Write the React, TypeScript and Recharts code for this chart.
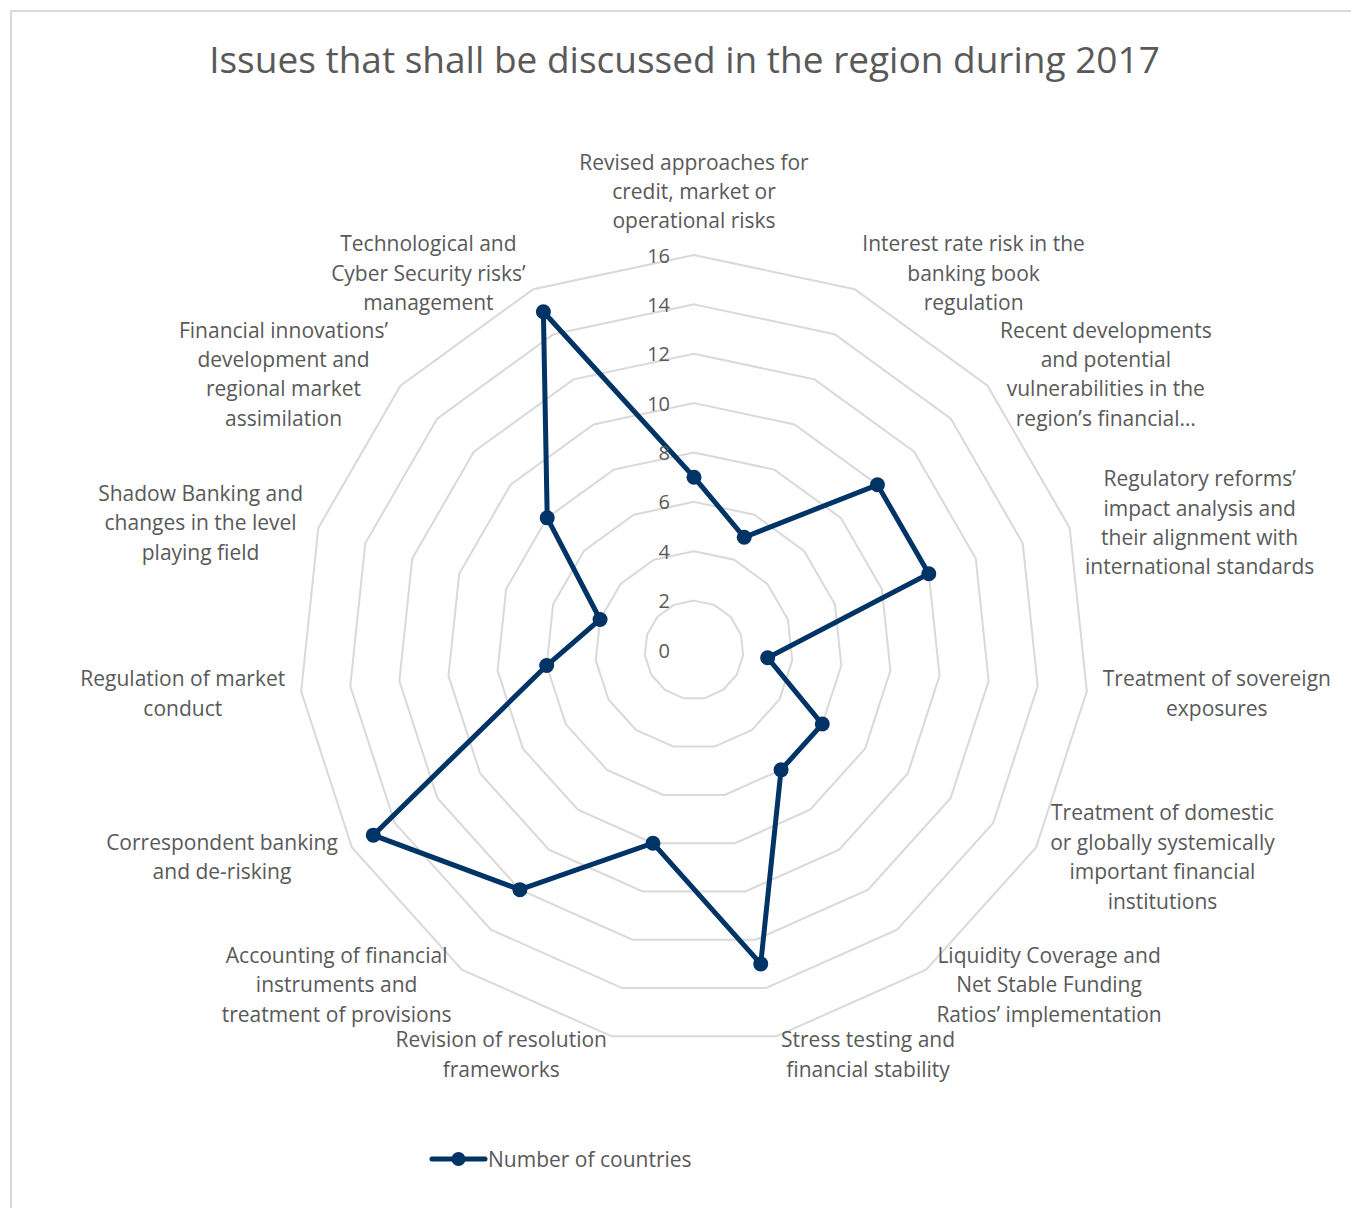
import { RadarChart, Radar, PolarGrid, PolarAngleAxis, PolarRadiusAxis, Legend } from "recharts";

const CATEGORIES = [
  "Revised approaches for\ncredit, market or\noperational risks",
  "Interest rate risk in the\nbanking book\nregulation",
  "Recent developments\nand potential\nvulnerabilities in the\nregion’s financial…",
  "Regulatory reforms’\nimpact analysis and\ntheir alignment with\ninternational standards",
  "Treatment of sovereign\nexposures",
  "Treatment of domestic\nor globally systemically\nimportant financial\ninstitutions",
  "Liquidity Coverage and\nNet Stable Funding\nRatios’ implementation",
  "Stress testing and\nfinancial stability",
  "Revision of resolution\nframeworks",
  "Accounting of financial\ninstruments and\ntreatment of provisions",
  "Correspondent banking\nand de-risking",
  "Regulation of market\nconduct",
  "Shadow Banking and\nchanges in the level\nplaying field",
  "Financial innovations’\ndevelopment and\nregional market\nassimilation",
  "Technological and\nCyber Security risks’\nmanagement",
];
const COUNTRIES = [7, 5, 10, 10, 3, 6, 6, 13, 8, 12, 15, 6, 4, 8, 15];
const RADIUS_TICKS = [0, 2, 4, 6, 8, 10, 12, 14, 16];
const SERIES_NAME = "Number of countries";
const TITLE = "Issues that shall be discussed in the region during 2017";

const data = CATEGORIES.map((c, i) => ({ category: c, value: COUNTRIES[i] }));

const W = 1351;
const H = 1208;
const CX = 694;
const CY = 650;
const R = 395;
const FONT = "'Open Sans', sans-serif";
const LABEL_SIZE = 21;
const LINE_H = 29.4;
const TEXT = "#595959";
const NAVY = "#003366";

let ctx: CanvasRenderingContext2D | null = null;
function textWidth(s: string) {
  if (!ctx) ctx = document.createElement("canvas").getContext("2d");
  if (!ctx) return s.length * 10;
  ctx.font = `${LABEL_SIZE}px 'Open Sans'`;
  return ctx.measureText(s).width;
}

// category labels sit outside each vertex, like Excel places them
function AngleTick(props: any) {
  const { index, payload } = props;
  const lines: string[] = String(payload.value).split("\n");
  const a = (index * 2 * Math.PI) / CATEGORIES.length;
  const vx = CX + R * Math.sin(a);
  const vy = CY - R * Math.cos(a);
  const w = Math.max(...lines.map(textWidth));
  const h = lines.length * LINE_H;
  let cx = vx;
  let cy = vy - h / 2 - 20;
  if (index !== 0) {
    const s = Math.sin(a) > 0 ? 1 : -1;
    cx = vx + s * (w / 2 + 2 + 14 * Math.abs(Math.sin(a)));
    cy = vy - 18 * Math.cos(a);
  }
  const top = cy - h / 2 + LINE_H / 2;
  return (
    <text textAnchor="middle" fill={TEXT} fontSize={LABEL_SIZE} fontFamily={FONT}>
      {lines.map((l, k) => (
        <tspan key={k} x={cx} y={top + k * LINE_H} dominantBaseline="central">
          {l}
        </tspan>
      ))}
    </text>
  );
}

function RadiusTick(props: any) {
  const { x, y, payload } = props;
  return (
    <text x={x - 24} y={y} textAnchor="end" dominantBaseline="central" fill={TEXT} fontSize={20} fontFamily={FONT}>
      {payload.value}
    </text>
  );
}

function NavyDot(props: any) {
  const { cx, cy } = props;
  if (cx == null || cy == null) return null;
  return <circle cx={cx} cy={cy} r={7.5} fill={NAVY} stroke="none" />;
}

function LegendContent() {
  return (
    <div style={{ display: "flex", alignItems: "center", fontFamily: FONT, fontSize: 21, color: TEXT }}>
      <svg width={59} height={20}>
        <line x1={3} y1={10} x2={56} y2={10} stroke={NAVY} strokeWidth={5} strokeLinecap="round" />
        <circle cx={29.5} cy={10} r={7} fill={NAVY} />
      </svg>
      <span>{SERIES_NAME}</span>
    </div>
  );
}

export default function App() {
  return (
    <div style={{ position: "relative", width: W, height: H, background: "#fff", overflow: "hidden" }}>
      <style>{`body{margin:0}`}</style>
      <div
        style={{
          position: "absolute",
          left: 10,
          top: 10,
          width: W,
          height: H,
          border: "2px solid #d9d9d9",
          boxSizing: "border-box",
        }}
      />
      <div
        style={{
          position: "absolute",
          left: 0,
          top: 32,
          width: 1369,
          textAlign: "center",
          fontFamily: FONT,
          fontSize: 37,
          color: TEXT,
          lineHeight: "54px",
        }}
      >
        {TITLE}
      </div>
      <div style={{ position: "absolute", left: 0, top: 0 }}>
        <RadarChart width={W} height={H} data={data} cx={CX} cy={CY} outerRadius={R} margin={{ top: 0, right: 0, bottom: 0, left: 0 }}>
          <PolarGrid gridType="polygon" radialLines={false} stroke="#d9d9d9" strokeWidth={2} />
          <PolarAngleAxis dataKey="category" tick={<AngleTick />} tickLine={false} axisLine={false} />
          <PolarRadiusAxis
            angle={90}
            domain={[0, 16]}
            ticks={RADIUS_TICKS}
            tickCount={9}
            axisLine={false}
            tick={<RadiusTick />}
          />
          <Radar
            name={SERIES_NAME}
            dataKey="value"
            stroke={NAVY}
            strokeWidth={5}
            fill="none"
            fillOpacity={0}
            dot={<NavyDot />}
            isAnimationActive={false}
          />
          <Legend
            content={<LegendContent />}
            wrapperStyle={{ position: "absolute", left: 429, top: 1145, width: "auto" }}
          />
        </RadarChart>
      </div>
    </div>
  );
}
